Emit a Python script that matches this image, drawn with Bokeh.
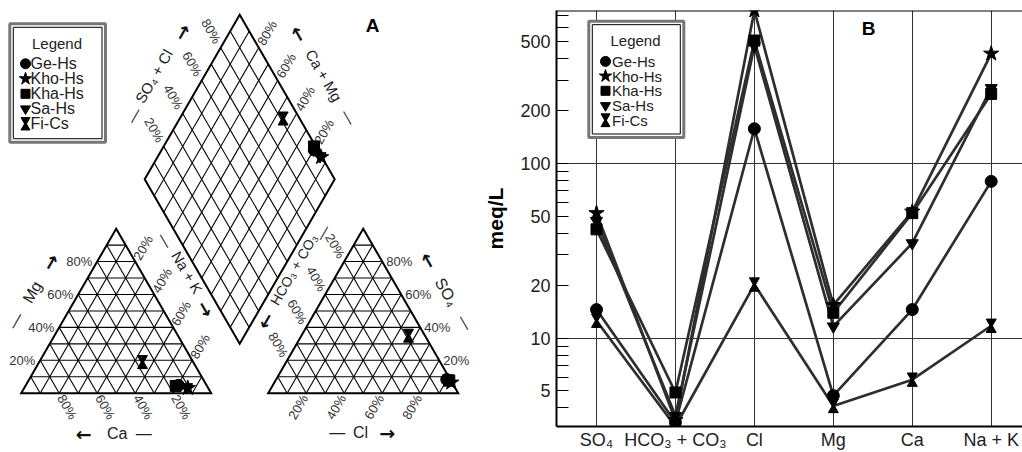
import math
from bokeh.plotting import figure
from bokeh.models import Range1d, FixedTicker, Span, NumeralTickFormatter, Label
from bokeh.layouts import row
from bokeh.embed import file_html
from bokeh.resources import INLINE
from bokeh.core.properties import value

# ---------------- data (meq/L) ----------------
categories = ["SO₄", "HCO₃ + CO₃", "Cl", "Mg", "Ca", "Na + K"]
sample_names = ["Ge-Hs", "Kho-Hs", "Kha-Hs", "Sa-Hs", "Fi-Cs"]
sample_markers = ["circle", "star", "square", "inverted_triangle", "hourglass"]
ge_hs = [14.6, 3.3, 158, 4.7, 14.6, 79]
kho_hs = [52, 3.4, 750, 15.5, 53, 425]
kha_hs = [42, 4.9, 505, 14.0, 52, 250]
sa_hs = [47, 3.6, 470, 11.7, 35, 270]
fi_cs = [12.6, 3.13, 20.3, 4.1, 5.8, 11.8]
series = [ge_hs, kho_hs, kha_hs, sa_hs, fi_cs]
y_major_ticks = [5, 10, 20, 50, 100, 200, 500]
y_minor_ticks = [4, 6, 7, 8, 9, 30, 40, 60, 70, 80, 90, 300, 400, 600, 700]
y_grid_lines = [10, 100]
pct_ticks = [20, 40, 60, 80]

FONT = value("Liberation Sans")
MSIZE = {"circle": 12, "star": 16, "square": 11, "inverted_triangle": 12, "hourglass": 10}
LSIZE = {"circle": 10, "star": 13, "square": 9, "inverted_triangle": 10, "hourglass": 9}

HTOT = 452

# ======================= A : Piper diagram =======================
S = 190.0             # pixels per triangle side
OX, OY = 20.7, 392.7  # page pixel of the cation triangle's left corner
WA = 480
H = math.sqrt(3) / 2

pA = figure(width=WA, height=HTOT,
            x_range=Range1d(-OX / S, (WA - OX) / S),
            y_range=Range1d(-(HTOT - OY) / S, OY / S),
            x_axis_type=None, y_axis_type=None,
            output_backend="svg", toolbar_location=None,
            min_border=0, outline_line_color=None)
pA.background_fill_color = "white"
pA.border_fill_color = "white"


def a(px, py):
    return (px - OX) / S, (OY - py) / S


def textA(x, y, t, ang=0, size="13px", align="center", color="#333", style="normal",
          font="Liberation Sans"):
    pA.add_layout(Label(x=x, y=y, text=t, angle=math.radians(ang), text_font=font,
                        text_font_size=size, text_align=align, text_baseline="middle",
                        text_color=color, text_font_style=style))


# grids
gx, gy = [], []
for k in range(1, 10):
    t = k / 10
    for ox in (0.0, 1.3):
        gx += [[ox + t / 2, ox + 1 - t / 2], [ox + t, ox + 0.5 + t / 2], [ox + t, ox + t / 2]]
        gy += [[t * H, t * H], [0, (1 - t) * H], [0, t * H]]
    bx, by = 1.15, 0.3 * H
    gx += [[bx + 0.5 * t, bx + 0.5 * t - 0.5], [bx - 0.5 * t, bx - 0.5 * t + 0.5]]
    gy += [[by + H * t, by + H * t + H], [by + H * t, by + H * t + H]]
pA.multi_line(gx, gy, line_color="black", line_width=1.1)
pA.patches(xs=[[0, 1, 0.5], [1.3, 2.3, 1.8], [1.15, 1.65, 1.15, 0.65]],
           ys=[[0, 0, H], [0, 0, H], [0.3 * H, 1.3 * H, 2.3 * H, 1.3 * H]],
           fill_color=None, line_color="black", line_width=2, line_join="miter")

# percentage labels
for v in pct_ticks:
    f = v / 100
    lab = f"{v}%"
    d = 16 / S
    textA(f / 2 - 5 / S, f * H, lab, 0, align="right")                       # Mg
    textA(1 - f + 0.5 * d, -H * d, lab, -60)                                # Ca
    textA(0.5 + 0.5 * f + 0.5 * d, H * (1 - f) + H * d, lab, 60)            # Na + K
    d2 = 18 / S
    textA(1.8 - 0.5 * f - 0.5 * d2, H * (1 - f) + H * d2, lab, -60)         # HCO3 + CO3
    textA(2.3 - 0.5 * f + 4 / S, f * H, lab, 0, align="left")               # SO4
    textA(1.3 + f - 0.5 * d, -H * d, lab, 60)                               # Cl
    d3 = 19 / S
    textA(0.65 + 0.5 * f - 0.5 * d3, 1.3 * H + f * H + H * d3, lab, -60)    # SO4 + Cl
    d4 = 17 / S
    textA(1.65 - 0.5 * f + 0.5 * d4, 1.3 * H + f * H + H * d4, lab, 60)     # Ca + Mg

# axis titles (page pixel positions)
titlesA = [
    ("—", 15, 320, 60, "16px"), ("Mg", 31.7, 291.7, 60, "16px"), ("→", 50, 261.7, 60, "16px"),
    ("←", 83.3, 433.3, 0, "16px"), ("Ca", 116.7, 433.3, 0, "16px"), ("—", 143.3, 433.3, 0, "16px"),
    ("—", 165, 240, -60, "15px"), ("Na + K", 186.7, 272, -60, "15px"), ("→", 205, 308.3, -60, "15px"),
    ("←", 265, 320, 60, "15px"), ("HCO₃ + CO₃", 293.3, 269, 60, "14px"), ("—", 322, 232, 60, "15px"),
    ("←", 428.3, 260, -60, "15px"), ("SO₄", 446, 291.7, -60, "16px"), ("—", 465, 322, -60, "15px"),
    ("—", 336.7, 431.7, 0, "16px"), ("Cl", 360, 432, 0, "16px"), ("→", 386.7, 432, 0, "16px"),
    ("—", 133.3, 115, 60, "15px"), ("SO₄ + Cl", 153.3, 75.8, 60, "15px"), ("→", 181.7, 31.7, 60, "15px"),
    ("←", 298.3, 33.3, -60, "15px"), ("Ca + Mg", 323.3, 75, -60, "15px"), ("—", 348.3, 116.7, -60, "15px"),
]
for t, px, py, ang, sz in titlesA:
    x, y = a(px, py)
    if t in ("→", "←"):
        textA(x, y, t, ang, size="19px", color="#111", style="bold", font="DejaVu Sans")
    else:
        textA(x, y, t, ang, size=sz, color="#222")

x, y = a(372, 25)
textA(x, y, "A", 0, size="19px", color="black", style="bold")


def piper(vals):
    so4, hco3, cl, mg, ca, nak = vals
    cat = ca + mg + nak
    an = so4 + hco3 + cl
    ca_p, mg_p, na_p = ca / cat, mg / cat, nak / cat
    so4_p, cl_p = so4 / an, cl / an
    cx, cy = na_p + mg_p / 2, mg_p * H
    ax, ay = 1.3 + cl_p + so4_p / 2, so4_p * H
    s, c = so4_p + cl_p, ca_p + mg_p
    dx, dy = 1.15 + 0.5 * s - 0.5 * c, 0.3 * H + H * s + H * c
    return [cx, ax, dx], [cy, ay, dy]


def markersA(xs, ys, kind, size):
    if kind == "hourglass":
        o = 3.6 / S
        pA.scatter(xs, [y + o for y in ys], marker="inverted_triangle", size=size,
                   fill_color="black", line_color="black")
        pA.scatter(xs, [y - o for y in ys], marker="triangle", size=size,
                   fill_color="black", line_color="black")
    else:
        pA.scatter(xs, ys, marker=kind, size=size, fill_color="black", line_color="black")


for vals, mk in zip(series, sample_markers):
    xs, ys = piper(vals)
    markersA(xs, ys, mk, MSIZE[mk])

# legend A
l, t = a(9.3, 23.3)
r, b = a(105, 141.7)
pA.quad(left=[l], right=[r], top=[t], bottom=[b], fill_color="white",
        line_color="#777", line_width=3)
l, t = a(12.8, 26.8)
r, b = a(101.5, 138.2)
pA.quad(left=[l], right=[r], top=[t], bottom=[b], fill_color=None,
        line_color="black", line_width=1)
x, y = a(56.5, 42.7)
textA(x, y, "Legend", 0, size="15px", color="#222")
for i, (nm, mk) in enumerate(zip(sample_names, sample_markers)):
    py = 63.3 + 15 * i
    mx, my = a(25, py)
    markersA([mx], [my], mk, LSIZE[mk])
    tx, ty = a(30, py)
    textA(tx, ty, nm, 0, size="16px", align="left", color="#222")

# ======================= B : Schoeller diagram =======================
WB = 1022 - WA
FL, FT, FB = 76, 10, 25
FW = WB - FL
FH = HTOT - FT - FB
PXU = 78.94
X0 = -(596 - (WA + FL)) / PXU
X1 = X0 + FW / PXU
Y0, Y1 = 3.13, 750
LSPAN = math.log10(Y1 / Y0)

pB = figure(width=WB, height=HTOT, x_range=Range1d(X0, X1), y_range=Range1d(Y0, Y1),
            y_axis_type="log", output_backend="svg", toolbar_location=None,
            min_border_left=FL, min_border_right=0, min_border_top=FT, min_border_bottom=FB,
            outline_line_color=None)
pB.background_fill_color = "white"
pB.border_fill_color = "white"

# do not align the two plot frames with each other
try:
    pA.frame_align = False
    pB.frame_align = False
except Exception:
    pass


def b_(px, py):
    return X0 + (px - (WA + FL)) / PXU, 10 ** (math.log10(Y1) - (py - FT) * LSPAN / FH)


def yshift(y, dpx):
    return y * 10 ** (dpx * LSPAN / FH)


# axes
pB.xaxis.ticker = FixedTicker(ticks=list(range(len(categories))))
pB.xaxis.major_label_overrides = {i: c for i, c in enumerate(categories)}
pB.xaxis.major_tick_in = 0
pB.xaxis.major_tick_out = 0
pB.xaxis.minor_tick_in = 0
pB.xaxis.minor_tick_out = 0
pB.xaxis.axis_line_width = 2
pB.xaxis.major_label_text_font = "Liberation Sans"
pB.xaxis.major_label_text_font_size = "18px"
pB.xaxis.major_label_text_color = "#222"
pB.xaxis.major_label_standoff = 3

pB.yaxis.ticker = FixedTicker(ticks=y_major_ticks, minor_ticks=y_minor_ticks)
pB.yaxis.formatter = NumeralTickFormatter(format="0")
pB.yaxis.major_tick_in = 12
pB.yaxis.major_tick_out = 0
pB.yaxis.minor_tick_in = 12
pB.yaxis.minor_tick_out = 0
pB.yaxis.axis_line_width = 2
pB.yaxis.major_label_standoff = 6
pB.yaxis.major_label_text_font = "Liberation Sans"
pB.yaxis.major_label_text_font_size = "18px"
pB.yaxis.major_label_text_color = "#222"
pB.yaxis.axis_label = "meq/L"
pB.yaxis.axis_label_text_font = "Liberation Sans"
pB.yaxis.axis_label_text_font_style = "bold"
pB.yaxis.axis_label_text_font_size = "21px"
pB.yaxis.axis_label_text_color = "black"
pB.yaxis.axis_label_standoff = 10

pB.xgrid.ticker = FixedTicker(ticks=list(range(len(categories))))
pB.xgrid.grid_line_color = "#333"
pB.xgrid.grid_line_width = 1
pB.ygrid.ticker = FixedTicker(ticks=y_grid_lines)
pB.ygrid.grid_line_color = "#333"
pB.ygrid.grid_line_width = 1
pB.add_layout(Span(location=Y1, dimension="width", line_color="black", line_width=2))

xs = list(range(len(categories)))
for vals in series:
    pB.line(xs, vals, line_color="#2e2e2e", line_width=2.7)


def markersB(xv, yv, kind, size):
    if kind == "hourglass":
        o = 3.8
        pB.scatter(xv, [yshift(y, o) for y in yv], marker="inverted_triangle", size=size,
                   fill_color="black", line_color="black")
        pB.scatter(xv, [yshift(y, -o) for y in yv], marker="triangle", size=size,
                   fill_color="black", line_color="black")
    else:
        pB.scatter(xv, yv, marker=kind, size=size, fill_color="black", line_color="black")


for vals, mk in zip(series, sample_markers):
    markersB(xs, vals, mk, MSIZE[mk])


def textB(x, y, t, size="15px", align="center", color="#222", style="normal"):
    pB.text(x=[x], y=[y], text=[t], text_font=FONT, text_font_size=size,
            text_align=align, text_baseline="middle", text_color=color, text_font_style=style)


# legend B
l, t = b_(588.3, 20.7)
r, bb = b_(683.3, 137.3)
pB.quad(left=[l], right=[r], top=[t], bottom=[bb], fill_color="white",
        line_color="#777", line_width=3)
l, t = b_(591.8, 24.2)
r, bb = b_(679.8, 133.8)
pB.quad(left=[l], right=[r], top=[t], bottom=[bb], fill_color=None,
        line_color="black", line_width=1)
x, y = b_(635, 40)
textB(x, y, "Legend", size="15px")
for i, (nm, mk) in enumerate(zip(sample_names, sample_markers)):
    py = 61 + 14.75 * i
    mx, my = b_(605, py)
    markersB([mx], [my], mk, LSIZE[mk])
    tx, ty = b_(611.5, py)
    textB(tx, ty, nm, size="15px", align="left")

x, y = b_(868, 28)
textB(x, y, "B", size="19px", color="black", style="bold")

layout = row(pA, pB)
open("out.html", "w").write(file_html(layout, INLINE))
